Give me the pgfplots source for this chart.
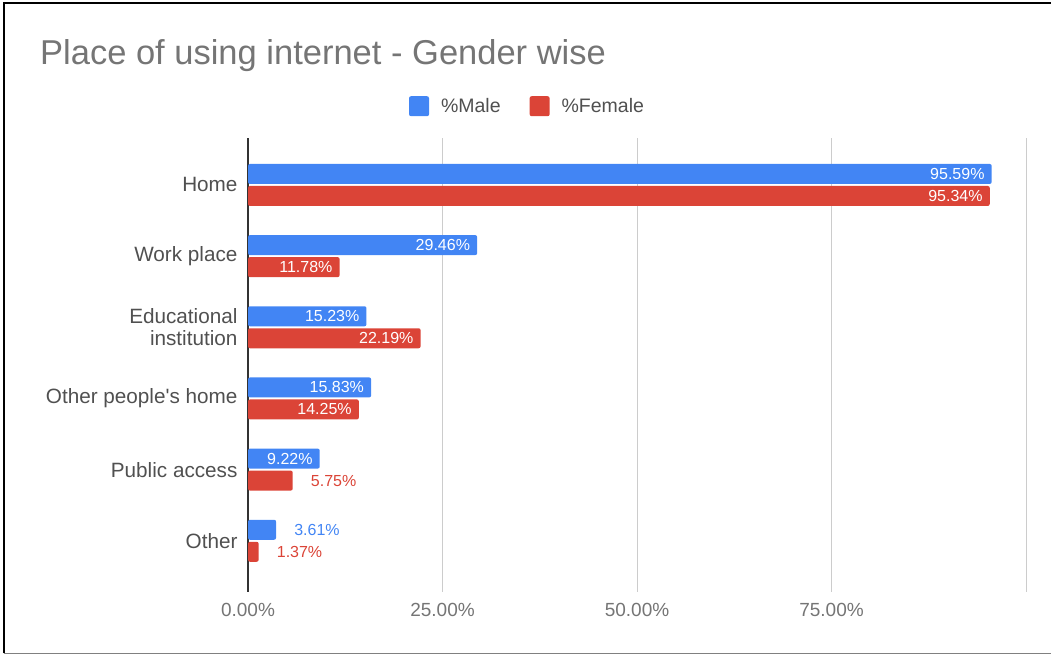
\documentclass[border=0pt]{standalone}
\usepackage{pgfplots}
\pgfplotsset{compat=1.18}
\usepackage{fontspec}
\setmainfont{Liberation Sans}
\definecolor{gblue}{HTML}{4285F4}
\definecolor{gred}{HTML}{DB4437}
\definecolor{tgray}{HTML}{757575}
\definecolor{cgray}{HTML}{505050}
\definecolor{gridgray}{HTML}{CCCCCC}
\begin{document}
\begin{tikzpicture}[x=1pt,y=1pt]
\useasboundingbox (0,0) rectangle (1051,655);
\draw[black, line width=2.5pt] (4,1.5) -- (4,652) -- (1051,652);
\draw[gray, line width=1.5pt] (4,1.5) -- (1051,1.5);
\node[anchor=base west, text=tgray, font=\fontsize{34.5}{38}\selectfont, inner sep=0] at (40,590) {Place of using internet - Gender wise};
\begin{axis}[
  at={(248pt,63pt)}, anchor=south west,
  width=778pt, height=454pt, scale only axis,
  xmin=0, xmax=100, ymin=-0.72, ymax=5.66,
  axis line style={draw=none},
  tick style={draw=none},
  xmajorgrids, grid style={gridgray, line width=1pt},
  xtick={0,25,50,75,100},
  xticklabels={0.00\%,25.00\%,50.00\%,75.00\%,{}},
  xticklabel style={text=tgray, font=\fontsize{19}{22}\selectfont, yshift=-8pt},
  extra x ticks={0}, extra x tick labels={},
  extra x tick style={grid style={black!80, line width=1.5pt}},
  ytick={0,1,2,3,4,5},
  yticklabels={Other,Public access,Other people\textquotesingle s home,{Educational\\institution},Work place,Home},
  yticklabel style={text=cgray, font=\fontsize{20.7}{22}\selectfont, align=right, xshift=-7pt},
  bar width=20pt,
  point meta=x,
  legend style={at={(0.3657,1.07)}, anchor=center, draw=none, fill=none,
    legend columns=2, font=\fontsize{19.5}{21}\selectfont, text=cgray,
    nodes={inner xsep=12pt},
    /tikz/every even column/.append style={column sep=17pt},
    legend cell align=left},
  legend image code/.code={\fill[#1, draw=none, rounded corners=2pt] (0pt,-10pt) rectangle (20pt,10pt);},
  label only/.style={only marks, mark=none, forget plot, nodes near coords={\pgfmathprintnumber[fixed,fixed zerofill,precision=2,assume math mode=true]{\pgfplotspointmeta}\%}},
]
% bars
\addplot[xbar, bar shift=11pt, fill=gblue, draw=none, rounded corners=2pt] coordinates {
  (95.59,5) (29.46,4) (15.23,3) (15.83,2) (9.22,1) (3.61,0)};
\addlegendentry{\%Male}
\addplot[xbar, bar shift=-11pt, fill=gred, draw=none, rounded corners=2pt] coordinates {
  (95.34,5) (11.78,4) (22.19,3) (14.25,2) (5.75,1) (1.37,0)};
\addlegendentry{\%Female}
% labels inside
\addplot[label only, nodes near coords style={anchor=east, inner sep=0pt, xshift=-7pt, yshift=11pt, text=white, font=\fontsize{16}{18}\selectfont}] coordinates {
  (95.59,5) (29.46,4) (15.23,3) (15.83,2) (9.22,1)};
\addplot[label only, nodes near coords style={anchor=east, inner sep=0pt, xshift=-7pt, yshift=-11pt, text=white, font=\fontsize{16}{18}\selectfont}] coordinates {
  (95.34,5) (11.78,4) (22.19,3) (14.25,2)};
% labels outside
\addplot[label only, nodes near coords style={anchor=west, inner sep=0pt, xshift=18pt, yshift=11pt, text=gblue, font=\fontsize{16}{18}\selectfont}] coordinates {
  (3.61,0)};
\addplot[label only, nodes near coords style={anchor=west, inner sep=0pt, xshift=18pt, yshift=-11pt, text=gred, font=\fontsize{16}{18}\selectfont}] coordinates {
  (5.75,1) (1.37,0)};
\end{axis}
\end{tikzpicture}
\end{document}
